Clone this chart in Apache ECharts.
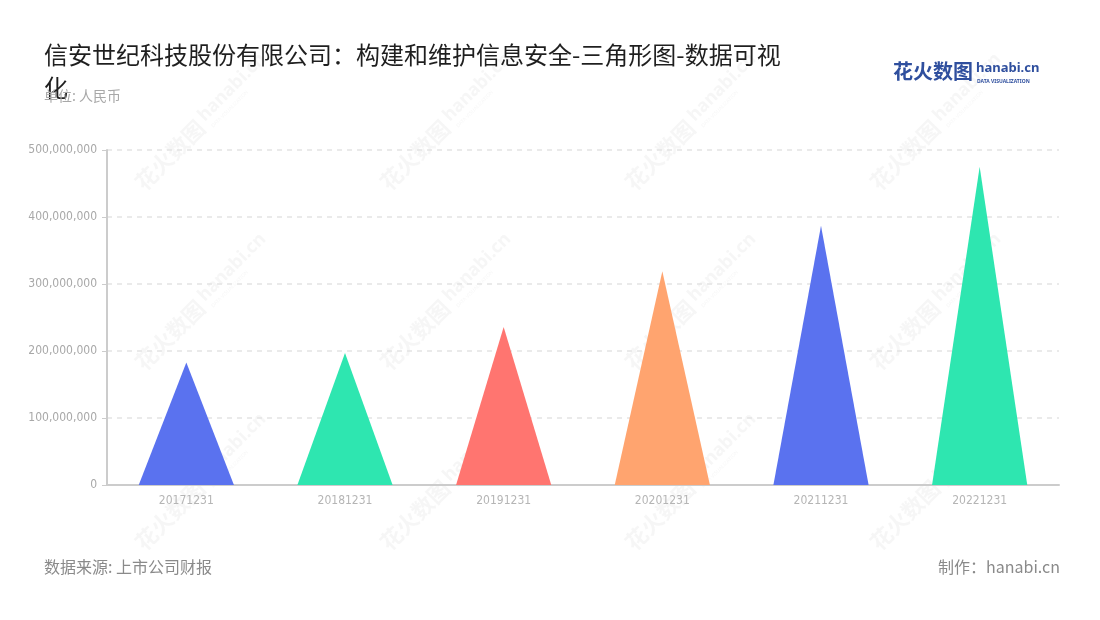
<!DOCTYPE html>
<html>
<head>
<meta charset="utf-8">
<script src="https://cdn.jsdelivr.net/npm/echarts@6/dist/echarts.min.js"></script>
<style>
html,body{margin:0;padding:0;background:#fff;}
#main{width:1100px;height:620px;}
</style>
</head>
<body>
<div id="main"></div>
<script>
const titleText = '信安世纪科技股份有限公司：构建和维护信息安全-三角形图-数据可视\n化';
const unitText = '单位: 人民币';
const sourceText = '数据来源: 上市公司财报';
const makerText = '制作：hanabi.cn';
const categories = ['20171231', '20181231', '20191231', '20201231', '20211231', '20221231'];
const values = [183000000, 197000000, 236000000, 319000000, 387000000, 475000000];
const palette = ['#5a72ef', '#2ee6b0', '#ff7570', '#ffa46f', '#5a72ef', '#2ee6b0'];

const chart = echarts.init(document.getElementById('main'));

const wmPositions = [];
[165, 345, 525].forEach(function (y) {
  [160, 405, 650, 895].forEach(function (x) { wmPositions.push([x, y]); });
});
const wmColor = 'rgba(170,170,170,0.10)';
const watermarks = wmPositions.map(function (p) {
  return {
    type: 'group',
    x: p[0], y: p[1],
    rotation: Math.PI / 4,
    silent: true,
    z: 100,
    children: [
      { type: 'text', x: -30, y: 0, style: { text: '花火数图', font: 'bold 22px "Noto Sans CJK SC"', fill: wmColor, textVerticalAlign: 'middle' } },
      { type: 'text', x: 62, y: -4, style: { text: 'hanabi.cn', font: 'bold 18px "Noto Sans"', fill: wmColor, textVerticalAlign: 'middle' } },
      { type: 'text', x: 64, y: 10, style: { text: 'DATA VISUALIZATION', font: '5px "Noto Sans"', fill: wmColor, textVerticalAlign: 'middle' } }
    ]
  };
});

const option = {
  backgroundColor: '#fff',
  title: [
    {
      text: titleText,
      left: 39, top: 33,
      textStyle: { fontFamily: '"Noto Sans CJK SC"', fontSize: 24, fontWeight: 'normal', color: '#1f1f1f', lineHeight: 33 }
    },
    {
      text: unitText,
      left: 39, top: 84,
      textStyle: { fontFamily: '"Noto Sans CJK SC"', fontSize: 14, fontWeight: 'normal', color: '#a8a8a8' }
    },
    {
      text: sourceText,
      left: 39, top: 554,
      textStyle: { fontFamily: '"Noto Sans CJK SC"', fontSize: 16, fontWeight: 'normal', color: '#8a8a8a' }
    },
    {
      text: makerText,
      right: 35, top: 554,
      textStyle: { fontFamily: '"Noto Sans CJK SC"', fontSize: 16, fontWeight: 'normal', color: '#8a8a8a' }
    }
  ],
  graphic: watermarks.concat([
    { type: 'text', left: 893, top: 61, style: { text: '花火数图', font: 'bold 20px "Noto Sans CJK SC"', fill: '#2f4f9e' } },
    { type: 'text', left: 976, top: 62, style: { text: 'hanabi.cn', font: 'bold 13px "Noto Sans"', fill: '#2f4f9e' } },
    { type: 'text', left: 977, top: 79, style: { text: 'DATA VISUALIZATION', font: 'bold 5px "Noto Sans"', fill: '#2f4f9e' } }
  ]),
  grid: { left: 107, right: 41, top: 150, bottom: 135, containLabel: false },
  xAxis: {
    type: 'category',
    data: categories,
    axisLine: { lineStyle: { color: '#cccccc', width: 2 } },
    axisTick: { alignWithLabel: true, length: 5, lineStyle: { color: '#aaaaaa' } },
    axisLabel: { color: '#b5b5b5', fontSize: 12, fontFamily: '"Liberation Sans Narrow", "DejaVu Sans Condensed", sans-serif', margin: 10 }
  },
  yAxis: {
    type: 'value',
    min: 0, max: 500000000, interval: 100000000,
    axisLine: { show: true, lineStyle: { color: '#cccccc', width: 2 } },
    axisTick: { show: true, length: 5, lineStyle: { color: '#cccccc' } },
    axisLabel: {
      color: '#a8a8a8', fontSize: 12, fontFamily: '"Liberation Sans Narrow", "DejaVu Sans Condensed", sans-serif', margin: 10,
      formatter: function (v) { return v.toLocaleString('en-US'); }
    },
    splitLine: { lineStyle: { color: '#e3e3e3', type: [5, 5], width: 1.5 } }
  },
  series: [{
    type: 'pictorialBar',
    symbol: 'triangle',
    barWidth: '60%',
    symbolSize: ['100%', '100%'],
    data: values.map(function (v, i) {
      return { value: v, itemStyle: { color: palette[i] } };
    })
  }]
};
chart.setOption(option);
</script>
</body>
</html>
